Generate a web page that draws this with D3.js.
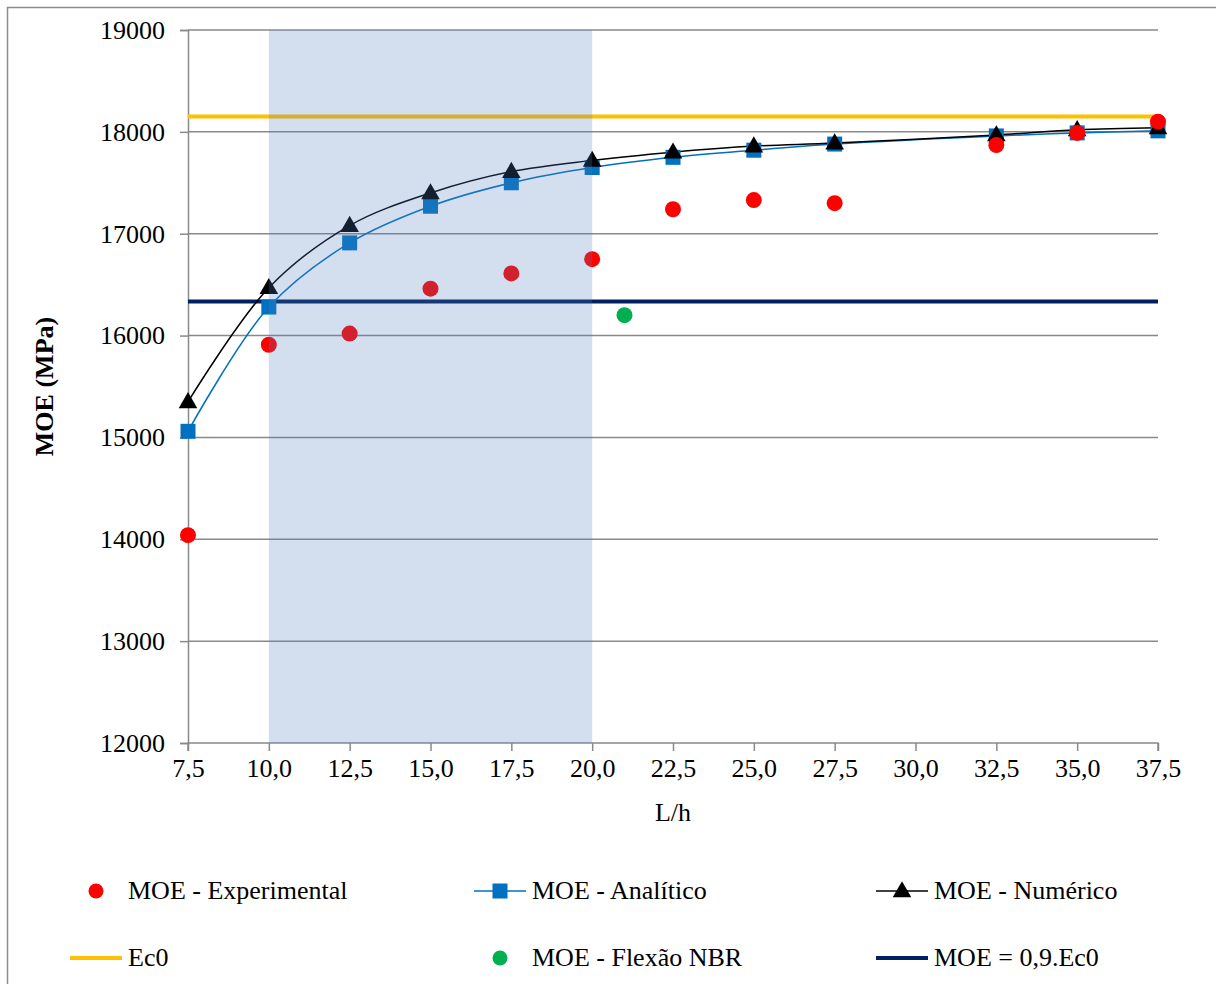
<!DOCTYPE html>
<html>
<head>
<meta charset="utf-8">
<script src="https://cdn.jsdelivr.net/npm/d3@7"></script>
<style>
  body { margin: 0; background: #fff; }
  svg { font-family: "Liberation Serif", "Times New Roman", serif; }
</style>
</head>
<body>
<div id="chart"></div>
<script>
// L/h values
var razao = [7.5, 10, 12.5, 15, 17.5, 20, 22.5, 25, 27.5, 32.5, 35, 37.5];
var moeExperimental = [14040, 15910, 16020, 16460, 16610, 16750, 17240, 17330, 17300, 17870, 17990, 18100];
var moeAnalitico = [15060, 16280, 16910, 17270, 17500, 17650, 17750, 17820, 17880, 17960, 17990, 18010];
var moeNumerico = [15350, 16470, 17080, 17400, 17610, 17720, 17800, 17860, 17890, 17970, 18020, 18040];
var flexaoX = [21];
var flexaoY = [16200];
var ec0 = 18150;
var ec09 = 16335;
var faixa = [10, 20];
var xTicks = [7.5, 10, 12.5, 15, 17.5, 20, 22.5, 25, 27.5, 30, 32.5, 35, 37.5];
var yTicks = [12000, 13000, 14000, 15000, 16000, 17000, 18000, 19000];

var W = 1216, H = 984;
var mLeft = 188, mRight = 1158, mTop = 30, mBottom = 743;
var fs = 26;

var svg = d3.select("#chart").append("svg")
    .attr("width", W)
    .attr("height", H);

// outer chart border
svg.append("rect")
    .attr("x", 7.5).attr("y", 7.5)
    .attr("width", W + 10).attr("height", H + 10)
    .attr("fill", "none")
    .attr("stroke", "#8c8c8c")
    .attr("stroke-width", 1.5);

var x = d3.scaleLinear().domain([7.5, 37.5]).range([mLeft, mRight]);
var y = d3.scaleLinear().domain([12000, 19000]).range([mBottom, mTop]);

// grid lines
svg.append("g")
    .selectAll("line")
    .data(yTicks.filter(function (d) { return d > 12000; }))
    .enter().append("line")
    .attr("x1", mLeft).attr("x2", mRight)
    .attr("y1", function (d) { return y(d); })
    .attr("y2", function (d) { return y(d); })
    .attr("stroke", "#898989")
    .attr("stroke-width", 1.5);

// y axis
var yAxis = d3.axisLeft(y).tickValues(yTicks).tickSize(8).tickPadding(15)
    .tickFormat(d3.format("d"));
var gy = svg.append("g").attr("transform", "translate(" + mLeft + ",0)").call(yAxis);
gy.attr("font-family", null).attr("font-size", null);
gy.select(".domain").attr("stroke", "#898989").attr("stroke-width", 1.5);
gy.selectAll(".tick line").attr("stroke", "#898989").attr("stroke-width", 1.5);
gy.selectAll("text").attr("font-size", fs).attr("fill", "#000");

// x axis
var xAxis = d3.axisBottom(x).tickValues(xTicks).tickSize(8).tickPadding(8)
    .tickFormat(function (d) { return d.toFixed(1).replace(".", ","); });
var gx = svg.append("g").attr("transform", "translate(0," + mBottom + ")").call(xAxis);
gx.attr("font-family", null).attr("font-size", null);
gx.select(".domain").attr("stroke", "#898989").attr("stroke-width", 1.5)
    .attr("d", "M" + mLeft + ",8V0H" + mRight + "V8");
gx.selectAll(".tick line").attr("stroke", "#898989").attr("stroke-width", 1.5);
gx.selectAll("text").attr("font-size", fs).attr("fill", "#000");

// axis titles
svg.append("text")
    .attr("x", x(22.5)).attr("y", 821)
    .attr("text-anchor", "middle")
    .attr("font-size", fs)
    .text("L/h");

svg.append("text")
    .attr("transform", "translate(53," + ((mTop + mBottom) / 2) + ") rotate(-90)")
    .attr("text-anchor", "middle")
    .attr("font-size", fs)
    .attr("font-weight", "bold")
    .text("MOE (MPa)");

// reference lines
svg.append("line")
    .attr("x1", mLeft).attr("x2", mRight)
    .attr("y1", y(ec0)).attr("y2", y(ec0))
    .attr("stroke", "#ffc000").attr("stroke-width", 4);
svg.append("line")
    .attr("x1", mLeft).attr("x2", mRight)
    .attr("y1", y(ec09)).attr("y2", y(ec09))
    .attr("stroke", "#002060").attr("stroke-width", 4);

var curva = d3.line()
    .x(function (d) { return x(d[0]); })
    .y(function (d) { return y(d[1]); })
    .curve(d3.curveCatmullRom.alpha(0.5));

// analitico
svg.append("path")
    .datum(d3.zip(razao, moeAnalitico))
    .attr("d", curva)
    .attr("fill", "none")
    .attr("stroke", "#0070c0")
    .attr("stroke-width", 1.5);

// numerico
svg.append("path")
    .datum(d3.zip(razao, moeNumerico))
    .attr("d", curva)
    .attr("fill", "none")
    .attr("stroke", "#000")
    .attr("stroke-width", 1.5);

svg.append("g").selectAll("rect")
    .data(d3.zip(razao, moeAnalitico))
    .enter().append("rect")
    .attr("x", function (d) { return x(d[0]) - 7.5; })
    .attr("y", function (d) { return y(d[1]) - 7.5; })
    .attr("width", 15).attr("height", 15)
    .attr("fill", "#0070c0");

var tri = d3.symbol().type(d3.symbolTriangle).size(150);
svg.append("g").selectAll("path")
    .data(d3.zip(razao, moeNumerico))
    .enter().append("path")
    .attr("d", tri)
    .attr("transform", function (d) { return "translate(" + x(d[0]) + "," + (y(d[1]) + 1) + ")"; })
    .attr("fill", "#000");

// experimental
svg.append("g").selectAll("circle")
    .data(d3.zip(razao, moeExperimental))
    .enter().append("circle")
    .attr("cx", function (d) { return x(d[0]); })
    .attr("cy", function (d) { return y(d[1]); })
    .attr("r", 8)
    .attr("fill", "#ff0000");

// flexao NBR
svg.append("g").selectAll("circle")
    .data(d3.zip(flexaoX, flexaoY))
    .enter().append("circle")
    .attr("cx", function (d) { return x(d[0]); })
    .attr("cy", function (d) { return y(d[1]); })
    .attr("r", 8)
    .attr("fill", "#00b050");

// shaded band drawn on top
svg.append("rect")
    .attr("x", x(faixa[0]))
    .attr("y", mTop)
    .attr("width", x(faixa[1]) - x(faixa[0]))
    .attr("height", mBottom - mTop)
    .attr("fill", "#4f81bd")
    .attr("fill-opacity", 0.25);

// legend
var legenda = [
    {nome: "MOE - Experimental", tipo: "dot", cor: "#ff0000", lx: 70, ly: 891},
    {nome: "MOE - Analítico", tipo: "square", cor: "#0070c0", lx: 474, ly: 891},
    {nome: "MOE - Numérico", tipo: "tri", cor: "#000", lx: 876, ly: 891},
    {nome: "Ec0", tipo: "line", cor: "#ffc000", lx: 70, ly: 958},
    {nome: "MOE - Flexão NBR", tipo: "dot", cor: "#00b050", lx: 474, ly: 958},
    {nome: "MOE = 0,9.Ec0", tipo: "line", cor: "#002060", lx: 876, ly: 958}
];

legenda.forEach(function (d) {
    var g = svg.append("g").attr("transform", "translate(" + d.lx + "," + d.ly + ")");
    var cx = 26;
    if (d.tipo == "dot") {
        g.append("circle").attr("cx", cx).attr("cy", 0).attr("r", 7.5).attr("fill", d.cor);
    } else if (d.tipo == "square") {
        g.append("line").attr("x1", 0).attr("x2", 52).attr("y1", 0).attr("y2", 0)
            .attr("stroke", d.cor).attr("stroke-width", 1.5);
        g.append("rect").attr("x", cx - 7.5).attr("y", -7.5).attr("width", 15).attr("height", 15)
            .attr("fill", d.cor);
    } else if (d.tipo == "tri") {
        g.append("line").attr("x1", 0).attr("x2", 52).attr("y1", 0).attr("y2", 0)
            .attr("stroke", d.cor).attr("stroke-width", 1.5);
        g.append("path").attr("d", tri).attr("transform", "translate(" + cx + ",1)").attr("fill", d.cor);
    } else {
        g.append("line").attr("x1", 0).attr("x2", 52).attr("y1", 0).attr("y2", 0)
            .attr("stroke", d.cor).attr("stroke-width", 4);
    }
    g.append("text")
        .attr("x", 58).attr("y", 8)
        .attr("font-size", fs)
        .text(d.nome);
});
</script>
</body>
</html>
